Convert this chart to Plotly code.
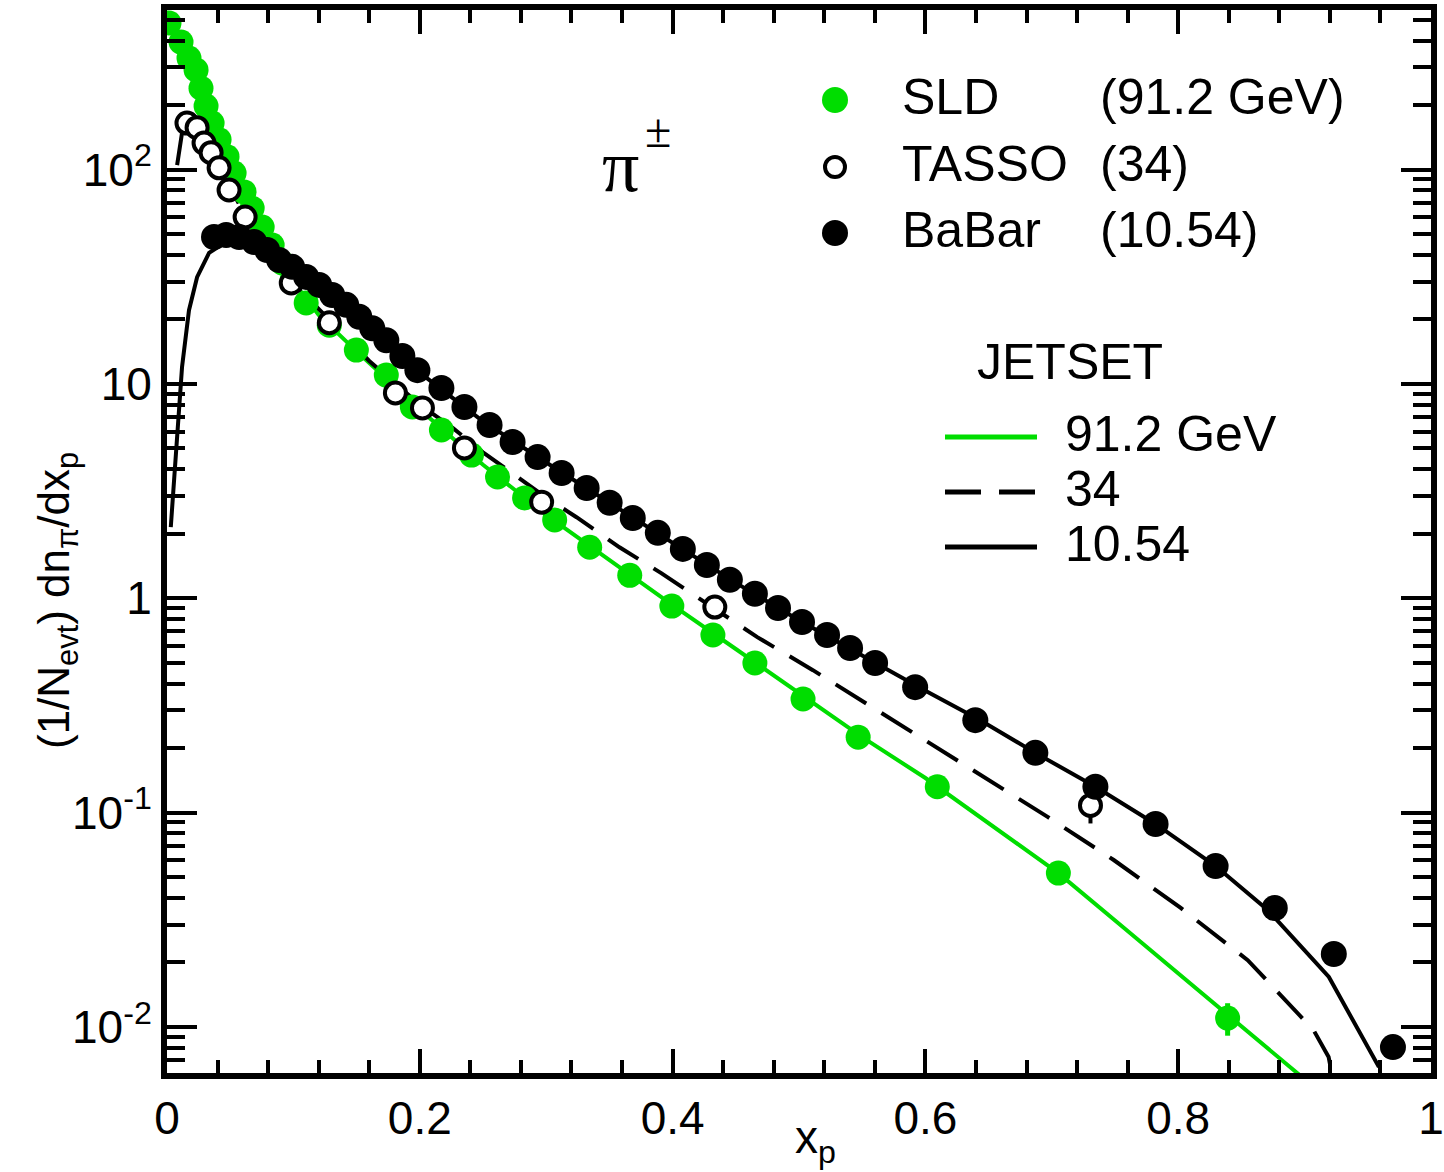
import plotly.graph_objects as go

# ---------------- data ----------------
# SLD, 91.2 GeV (green filled circles)
sld_x = [0.0016, 0.0111, 0.0174, 0.0230, 0.0269, 0.0309, 0.0357, 0.0412, 0.0475, 0.0531,
         0.0610, 0.0674, 0.0753, 0.0832, 0.0911, 0.0990, 0.1101, 0.1284, 0.1498, 0.1735,
         0.1941, 0.2171, 0.2409, 0.2615, 0.2829, 0.3067, 0.3344, 0.3661, 0.3994, 0.4319,
         0.4651, 0.5032, 0.5468, 0.6094, 0.7052, 0.8391]
sld_y = [484, 394, 332, 292, 240, 198, 165, 138, 115, 96.5,
         78.7, 66.2, 54.0, 44.5, 36.7, 30.6, 23.9, 18.8, 14.4, 11.0,
         7.81, 6.10, 4.66, 3.68, 2.94, 2.32, 1.73, 1.28, 0.920, 0.674,
         0.499, 0.339, 0.225, 0.132, 0.0522, 0.0110]
sld_err = [0] * 35 + [0.0019]

# TASSO, 34 GeV (open circles)
tasso_x = [0.0158, 0.0238, 0.0293, 0.0349, 0.0412, 0.0491, 0.0618, 0.0983, 0.1284, 0.1807,
           0.2021, 0.2353, 0.2964, 0.4334, 0.7306]
tasso_y = [165, 157, 133, 120, 102, 80.4, 60.1, 29.6, 19.3, 9.08,
           7.73, 5.03, 2.81, 0.910, 0.108]
tasso_err = [0] * 14 + [0.019]

# BaBar, 10.54 GeV (black filled circles)
babar_x = [0.0372, 0.0468, 0.0571, 0.0689, 0.0792, 0.0887, 0.0990, 0.1101, 0.1204, 0.1307,
           0.1418, 0.1521, 0.1624, 0.1735, 0.1862, 0.1981, 0.2171, 0.2353, 0.2552, 0.2734,
           0.2932, 0.3122, 0.3320, 0.3502, 0.3685, 0.3883, 0.4081, 0.4271, 0.4453, 0.4651,
           0.4834, 0.5024, 0.5222, 0.5404, 0.5602, 0.5919, 0.6395, 0.6870, 0.7345, 0.7821,
           0.8296, 0.8764, 0.9231, 0.9699]
babar_y = [48.5, 49.5, 48.5, 46.0, 42.2, 37.9, 35.2, 31.6, 29.0, 26.0,
           23.4, 20.6, 18.2, 16.0, 13.5, 11.6, 9.58, 7.81, 6.44, 5.36,
           4.56, 3.84, 3.27, 2.79, 2.37, 2.02, 1.70, 1.43, 1.22, 1.05,
           0.901, 0.775, 0.674, 0.586, 0.499, 0.385, 0.270, 0.190, 0.132, 0.0885,
           0.0563, 0.0359, 0.0219, 0.00805]

# JETSET curves
jet91_x = [0.003, 0.01, 0.02, 0.03, 0.04, 0.05, 0.06, 0.08, 0.10, 0.12, 0.15, 0.20,
           0.25, 0.30, 0.35, 0.40, 0.45, 0.50, 0.55, 0.60, 0.6434, 0.7052, 0.7567,
           0.80, 0.8391, 0.8914, 0.90]
jet91_y = [490, 405, 310, 205, 142, 108, 81, 48, 30, 21, 14.2, 7.6,
           4.2, 2.45, 1.5, 0.93, 0.58, 0.36, 0.225, 0.145, 0.095, 0.0522, 0.0291,
           0.0178, 0.0114, 0.00629, 0.0057]

jet34_x = [0.008, 0.012, 0.016, 0.02, 0.025, 0.03, 0.04, 0.05, 0.06, 0.08, 0.10, 0.13,
           0.16, 0.20, 0.226, 0.25, 0.30, 0.324, 0.358, 0.391, 0.43, 0.467, 0.511,
           0.58, 0.643, 0.697, 0.749, 0.802, 0.855, 0.907, 0.919, 0.921]
jet34_y = [105, 150, 168, 166, 155, 138, 107, 82, 64, 42, 29.5, 19.5,
           12.8, 8.0, 6.24, 4.8, 2.95, 2.39, 1.73, 1.31, 0.92, 0.659, 0.462,
           0.257, 0.150, 0.0953, 0.0601, 0.0359, 0.0205, 0.00968, 0.00724, 0.0063]

jet105_x = [0.003, 0.0079, 0.0119, 0.0174, 0.0238, 0.0333, 0.0428, 0.0547, 0.065, 0.08,
            0.10, 0.13, 0.16, 0.20, 0.25, 0.30, 0.35, 0.40, 0.45, 0.50, 0.55, 0.60,
            0.6434, 0.687, 0.7345, 0.782, 0.8296, 0.8708, 0.9192, 0.9588]
jet105_y = [2.15, 5.91, 12.0, 22.1, 31.5, 40.9, 44.5, 45.5, 43.6, 40.5,
            34.5, 26.0, 18.7, 11.3, 6.7, 4.3, 2.8, 1.82, 1.18, 0.79, 0.54, 0.37,
            0.270, 0.190, 0.132, 0.0885, 0.0563, 0.0351, 0.0171, 0.0065]

x_tickvals = [0, 0.2, 0.4, 0.6, 0.8, 1]
x_ticktext = ["0", "0.2", "0.4", "0.6", "0.8", "1"]
y_tickvals = [0.01, 0.1, 1, 10, 100]
y_ticktext = ["10<sup>-2</sup>", "10<sup>-1</sup>", "1", "10", "10<sup>2</sup>"]
y_minor = [k * 10 ** e for e in range(-3, 3) for k in range(2, 10)]

legend_data = [("SLD", "(91.2 GeV)"), ("TASSO", "(34)"), ("BaBar", "(10.54)")]
legend_jetset = ["91.2 GeV", "34", "10.54"]

GREEN = "#00dd00"
FONT = "Liberation Sans"

# ---------------- figure ----------------
W, H = 1444, 1172
ML, MR, MT, MB = 167, 13, 10, 99
PW, PH = W - ML - MR, H - MT - MB


def px(xp):
    return (xp - ML) / PW


def py(yp):
    return (H - MB - yp) / PH


fig = go.Figure()

fig.add_trace(go.Scatter(x=jet91_x, y=jet91_y, mode="lines",
                         line=dict(color=GREEN, width=4), hoverinfo="skip"))
fig.add_trace(go.Scatter(x=jet34_x, y=jet34_y, mode="lines",
                         line=dict(color="black", width=4, dash="36px,18px"), hoverinfo="skip"))
fig.add_trace(go.Scatter(x=jet105_x, y=jet105_y, mode="lines",
                         line=dict(color="black", width=4), hoverinfo="skip"))

fig.add_trace(go.Scatter(x=sld_x, y=sld_y, mode="markers",
                         marker=dict(color=GREEN, size=25, line=dict(width=0)),
                         error_y=dict(type="data", array=sld_err, color=GREEN,
                                      thickness=5, width=0)))
fig.add_trace(go.Scatter(x=tasso_x, y=tasso_y, mode="markers",
                         marker=dict(color="white", size=21, line=dict(color="black", width=4)),
                         error_y=dict(type="data", array=tasso_err, color="black",
                                      thickness=4, width=0)))
fig.add_trace(go.Scatter(x=babar_x, y=babar_y, mode="markers",
                         marker=dict(color="black", size=26, line=dict(width=0))))

axis_common = dict(showline=True, linecolor="black", linewidth=6, mirror="ticks",
                   ticks="inside", tickcolor="black", tickwidth=4,
                   showgrid=False, zeroline=False, automargin=False,
                   tickfont=dict(family=FONT, size=46, color="black"))

fig.update_xaxes(range=[0, 1], tickmode="array", tickvals=x_tickvals, ticktext=x_ticktext,
                 ticklen=24,
                 minor=dict(ticks="inside", ticklen=13, tickwidth=4, tickcolor="black",
                            dtick=0.04, tick0=0, showgrid=False),
                 **axis_common)
fig.update_yaxes(type="log", range=[-2.215, 2.745], tickmode="array",
                 tickvals=y_tickvals, ticktext=y_ticktext, ticklen=30,
                 minor=dict(ticks="inside", ticklen=18, tickwidth=4, tickcolor="black",
                            tickmode="array", tickvals=y_minor, showgrid=False),
                 **axis_common)

ann = []
shapes = []
# axis titles
ann.append(dict(x=px(815), y=py(1140), xref="paper", yref="paper", showarrow=False,
                text="x<sub>p</sub>", font=dict(family=FONT, size=46, color="black"),
                xanchor="center", yanchor="middle"))
ann.append(dict(x=px(57), y=py(600), xref="paper", yref="paper", showarrow=False,
                textangle=-90,
                text="(1/N<sub>evt</sub>) dn<sub>π</sub>/dx<sub>p</sub>",
                font=dict(family=FONT, size=44, color="black"),
                xanchor="center", yanchor="middle"))
# particle label
ann.append(dict(x=px(620), y=py(166), xref="paper", yref="paper", showarrow=False,
                text="π", font=dict(family="Liberation Serif", size=74, color="black"),
                xanchor="center", yanchor="middle"))
ann.append(dict(x=px(658), y=py(130), xref="paper", yref="paper", showarrow=False,
                text="±", font=dict(family="Liberation Serif", size=48, color="black"),
                xanchor="center", yanchor="middle"))

# data legend
leg_rows_y = [97, 164, 230]
for i, (name, energy) in enumerate(legend_data):
    yy = py(leg_rows_y[i])
    ann.append(dict(x=px(900), y=yy, xref="paper", yref="paper", showarrow=False,
                    text=name, font=dict(family=FONT, size=50, color="black"),
                    xanchor="left", yanchor="middle"))
    ann.append(dict(x=px(1098), y=yy, xref="paper", yref="paper", showarrow=False,
                    text=energy, font=dict(family=FONT, size=50, color="black"),
                    xanchor="left", yanchor="middle"))
    cy = py(leg_rows_y[i] + 3)
    if i == 0:
        fc, lc, r, lw = GREEN, GREEN, 13, 0
    elif i == 1:
        fc, lc, r, lw = "white", "black", 10, 4
    else:
        fc, lc, r, lw = "black", "black", 13, 0
    shapes.append(dict(type="circle", xref="paper", yref="paper",
                       xsizemode="pixel", ysizemode="pixel",
                       xanchor=px(835), yanchor=cy, x0=-r, x1=r, y0=-r, y1=r,
                       fillcolor=fc, line=dict(color=lc, width=lw)))

ann.append(dict(x=px(975), y=py(362), xref="paper", yref="paper", showarrow=False,
                text="JETSET", font=dict(family=FONT, size=50, color="black"),
                xanchor="left", yanchor="middle"))
jet_rows_y = [437, 492, 547]
jet_styles = [(GREEN, "solid"), ("black", "36px,18px"), ("black", "solid")]
for i, lab in enumerate(legend_jetset):
    yy = py(jet_rows_y[i])
    ann.append(dict(x=px(1063), y=py(jet_rows_y[i] - 3), xref="paper", yref="paper",
                    showarrow=False,
                    text=lab, font=dict(family=FONT, size=50, color="black"),
                    xanchor="left", yanchor="middle"))
    col, dsh = jet_styles[i]
    shapes.append(dict(type="line", xref="paper", yref="paper",
                       x0=px(945), x1=px(1037), y0=yy, y1=yy,
                       line=dict(color=col, width=5, dash=dsh)))

fig.update_layout(width=W, height=H, margin=dict(l=ML, r=MR, t=MT, b=MB),
                  plot_bgcolor="white", paper_bgcolor="white", showlegend=False,
                  annotations=ann, shapes=shapes)

fig.write_html("out.html", config={"displayModeBar": False},
               post_script="document.body.style.margin='0';")
